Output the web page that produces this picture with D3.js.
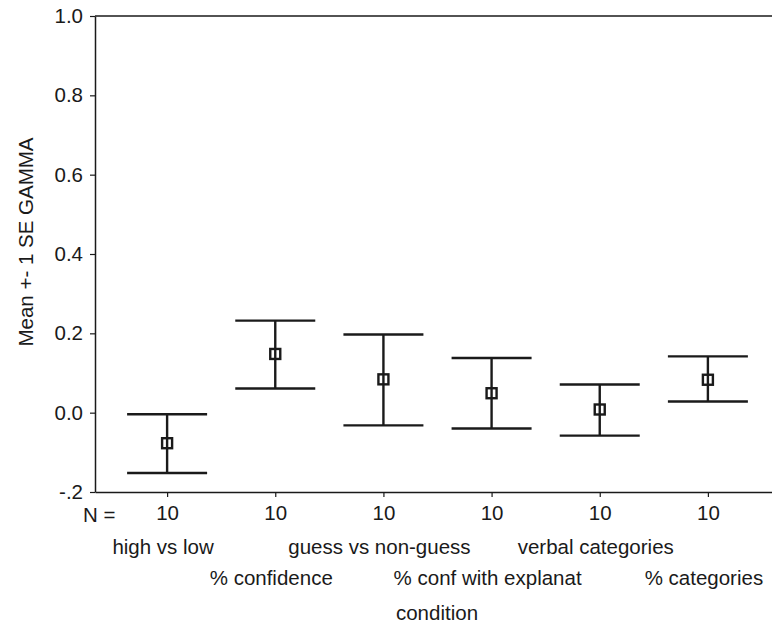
<!DOCTYPE html>
<html>
<head>
<meta charset="utf-8">
<script src="https://cdn.jsdelivr.net/npm/d3@7"></script>
<style>
  html, body { margin: 0; padding: 0; background: #fff; }
  svg { display: block; }
  text { font-family: "Liberation Sans", Arial, sans-serif; fill: #1a1a1a; }
</style>
</head>
<body>
<svg id="chart" width="772" height="626"></svg>
<script>
// ---- data ----
const categories = ["high vs low", "% confidence", "guess vs non-guess", "% conf with explanat", "verbal categories", "% categories"];
const means = [-0.077, 0.148, 0.084, 0.049, 0.008, 0.083];
const upper = [-0.004, 0.232, 0.197, 0.138, 0.071, 0.142];
const lower = [-0.152, 0.061, -0.032, -0.040, -0.058, 0.028];
const nValues = [10, 10, 10, 10, 10, 10];
const yTicks = [-0.2, 0.0, 0.2, 0.4, 0.6, 0.8, 1.0];
const yTickLabels = ["-.2", "0.0", "0.2", "0.4", "0.6", "0.8", "1.0"];
const yTitle = "Mean +- 1 SE GAMMA";
const xTitle = "condition";
const nLabel = "N =";

(function () {
// ---- layout ----
const svg = d3.select("#chart");
const mLeft = 95, mRight = 780, mTop = 16, mBottom = 492;
const fs = 20.5;

const x = d3.scalePoint().domain(categories).range([mLeft, mRight]).padding(2 / 3);
const y = d3.scaleLinear().domain([-0.2, 1.0]).range([mBottom, mTop]);

// top frame line
svg.append("line")
  .attr("x1", mLeft).attr("x2", mRight)
  .attr("y1", y(1.0)).attr("y2", y(1.0))
  .attr("stroke", "#1a1a1a").attr("stroke-width", 1.5);

// y axis
const yAxis = svg.append("g")
  .attr("transform", `translate(${mLeft},0)`)
  .call(d3.axisLeft(y).tickValues(yTicks)
    .tickFormat((d, i) => yTickLabels[i]).tickSize(5).tickPadding(7).tickSizeOuter(0));
yAxis.select(".domain").attr("stroke", "#1a1a1a").attr("stroke-width", 1.5);
yAxis.selectAll(".tick line").attr("stroke", "#1a1a1a").attr("stroke-width", 1.2);
yAxis.selectAll(".tick text").style("font-size", fs + "px").attr("fill", "#1a1a1a")
  .style("font-family", '"Liberation Sans", Arial, sans-serif');

// x axis
const xAxis = svg.append("g")
  .attr("transform", `translate(0,${mBottom})`)
  .call(d3.axisBottom(x).tickSize(5).tickFormat((d, i) => nValues[i]).tickPadding(8).tickSizeOuter(0));
xAxis.select(".domain").attr("stroke", "#1a1a1a").attr("stroke-width", 1.5);
xAxis.selectAll(".tick line").attr("stroke", "#1a1a1a").attr("stroke-width", 1.2);
xAxis.selectAll(".tick text").style("font-size", fs + "px").attr("fill", "#1a1a1a")
  .style("font-family", '"Liberation Sans", Arial, sans-serif');

// N = label
svg.append("text").attr("x", 83).attr("y", 514).attr("dominant-baseline", "central")
  .style("font-size", fs + "px").text(nLabel);

// category labels (staggered)
svg.append("g").selectAll("text").data(categories).join("text")
  .attr("x", d => x(d) - 4)
  .attr("y", (d, i) => i % 2 === 0 ? 546 : 577)
  .attr("text-anchor", "middle").attr("dominant-baseline", "central")
  .style("font-size", fs + "px")
  .text(d => d);

// axis titles
svg.append("text").attr("x", 437).attr("y", 612)
  .attr("text-anchor", "middle").attr("dominant-baseline", "central")
  .style("font-size", fs + "px").text(xTitle);
svg.append("text")
  .attr("transform", "translate(25,242) rotate(-90)")
  .attr("text-anchor", "middle").attr("dominant-baseline", "central")
  .style("font-size", fs + "px").text(yTitle);

// error bars
const capHalf = 40;
const g = svg.append("g").attr("stroke", "#1a1a1a").attr("stroke-width", 2.4).attr("fill", "none");
const idx = d3.range(categories.length);
g.selectAll(".vline").data(idx).join("line").attr("class", "vline")
  .attr("x1", i => x(categories[i])).attr("x2", i => x(categories[i]))
  .attr("y1", i => y(upper[i])).attr("y2", i => y(lower[i]));
g.selectAll(".cap-u").data(idx).join("line").attr("class", "cap-u")
  .attr("x1", i => x(categories[i]) - capHalf).attr("x2", i => x(categories[i]) + capHalf)
  .attr("y1", i => y(upper[i])).attr("y2", i => y(upper[i]));
g.selectAll(".cap-l").data(idx).join("line").attr("class", "cap-l")
  .attr("x1", i => x(categories[i]) - capHalf).attr("x2", i => x(categories[i]) + capHalf)
  .attr("y1", i => y(lower[i])).attr("y2", i => y(lower[i]));
g.selectAll("rect").data(idx).join("rect")
  .attr("x", i => x(categories[i]) - 5).attr("y", i => y(means[i]) - 5)
  .attr("width", 10).attr("height", 10)
  .attr("stroke-width", 2.4);
})();
</script>
</body>
</html>
